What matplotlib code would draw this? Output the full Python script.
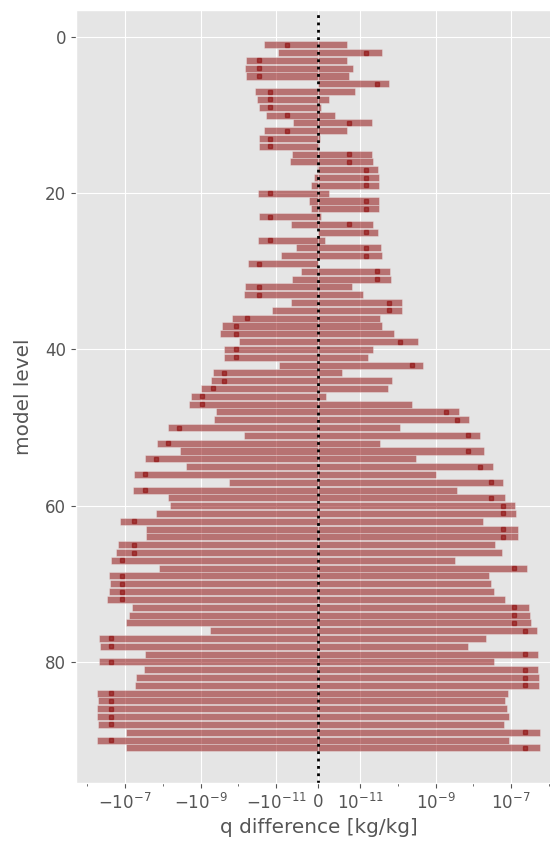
# q differences per model level (min/max range and the marked value)
import numpy as np
import matplotlib
matplotlib.use("Agg")
import matplotlib.pyplot as plt
from matplotlib.ticker import FixedLocator, NullFormatter

plt.style.use("ggplot")
plt.rcParams["font.size"] = 12

levels = np.arange(1, 92)

q_min = [-2.08e-11, -9.5e-12, -6.37e-11, -6.5e-11, -6.37e-11, 0.0, -3.6e-11, -3.13e-11, -2.88e-11, -1.81e-11,
         -5.96e-12, -2.13e-11, -2.82e-11, -2.82e-11, -6.2e-12, -6.8e-12, -3e-13, -9.5e-13, -1.7e-12, -3.01e-11,
         -2.2e-12, -1.7e-12, -2.88e-11, -6.4e-12, -1e-13, -2.94e-11, -5.3e-12, -8.8e-12, -5.64e-11, -4.1e-12,
         -6.1e-12, -6.5e-11, -6.92e-11, -6.4e-12, -1.25e-11, -1.44e-10, -2.64e-10, -2.99e-10, -9.4e-11, -2.44e-10,
         -2.39e-10, -9.4e-12, -4.57e-10, -5.16e-10, -9.5e-10, -1.82e-9, -2.06e-9, -3.89e-10, -4.49e-10, -7.41e-9,
         -7.2e-11, -1.42e-8, -3.56e-9, -2.89e-8, -2.47e-9, -5.77e-8, -1.73e-10, -6.12e-8, -7.41e-9, -6.43e-9,
         -1.51e-8, -1.33e-7, -2.83e-8, -2.77e-8, -1.5e-7, -1.69e-7, -2.3e-7, -1.26e-8, -2.59e-7, -2.54e-7,
         -2.65e-7, -2.99e-7, -6.65e-8, -7.98e-8, -9.4e-8, -5.71e-10, -4.88e-7, -4.58e-7, -2.89e-8, -4.98e-7,
         -3.07e-8, -5.0e-8, -5.32e-8, -5.51e-7, -5.28e-7, -5.51e-7, -5.62e-7, -5.28e-7, -9.4e-8, -5.4e-7,
         -9.4e-8]

q_max = [6.8e-12, 3.91e-11, 7.0e-12, 8.4e-12, 7.3e-12, 5.87e-11, 8.7e-12, 2.6e-12, 6e-13, 4.1e-12,
         2.08e-11, 7.0e-12, 5e-13, 2e-13, 2.08e-11, 2.17e-11, 3.07e-11, 3.13e-11, 3.19e-11, 2.5e-12,
         3.19e-11, 3.19e-11, 8e-13, 2.17e-11, 3.07e-11, 1.6e-12, 3.53e-11, 3.91e-11, 0.0, 6.37e-11,
         6.5e-11, 8.1e-12, 1.18e-11, 1.27e-10, 1.32e-10, 3.4e-11, 3.91e-11, 7.96e-11, 3.37e-10, 2.21e-11,
         1.63e-11, 4.76e-10, 5.8e-12, 7.2e-11, 5.42e-11, 1.9e-12, 2.34e-10, 4.19e-9, 7.87e-9, 1.17e-10,
         1.51e-8, 3.46e-11, 1.92e-8, 3.11e-10, 3.27e-8, 1.05e-9, 6.12e-8, 3.71e-9, 6.92e-8, 1.27e-7,
         1.36e-7, 1.85e-8, 1.5e-7, 1.5e-7, 3.84e-8, 5.77e-8, 3.22e-9, 2.59e-7, 2.56e-8, 2.89e-8,
         3.61e-8, 7.06e-8, 3.05e-7, 3.24e-7, 3.45e-7, 4.88e-7, 2.17e-8, 7.26e-9, 5.18e-7, 3.61e-8,
         5.18e-7, 5.4e-7, 5.4e-7, 8.15e-8, 6.92e-8, 7.67e-8, 9.02e-8, 6.65e-8, 5.85e-7, 8.83e-8,
         5.85e-7]

q_mark = [-7.28e-12, 1.46e-11, -2.91e-11, -2.91e-11, -2.91e-11, 2.91e-11, -1.46e-11, -1.46e-11, -1.46e-11, -7.28e-12,
          7.28e-12, -7.28e-12, -1.46e-11, -1.46e-11, 7.28e-12, 7.28e-12, 1.46e-11, 1.46e-11, 1.46e-11, -1.46e-11,
          1.46e-11, 1.46e-11, -1.46e-11, 7.28e-12, 1.46e-11, -1.46e-11, 1.46e-11, 1.46e-11, -2.91e-11, 2.91e-11,
          2.91e-11, -2.91e-11, -2.91e-11, 5.82e-11, 5.82e-11, -5.82e-11, -1.16e-10, -1.16e-10, 1.16e-10, -1.16e-10,
          -1.16e-10, 2.33e-10, -2.33e-10, -2.33e-10, -4.66e-10, -9.31e-10, -9.31e-10, 1.86e-9, 3.73e-9, -3.73e-9,
          7.45e-9, -7.45e-9, 7.45e-9, -1.49e-8, 1.49e-8, -2.98e-8, 2.98e-8, -2.98e-8, 2.98e-8, 5.96e-8,
          5.96e-8, -5.96e-8, 5.96e-8, 5.96e-8, -5.96e-8, -5.96e-8, -1.19e-7, 1.19e-7, -1.19e-7, -1.19e-7,
          -1.19e-7, -1.19e-7, 1.19e-7, 1.19e-7, 1.19e-7, 2.38e-7, -2.38e-7, -2.38e-7, 2.38e-7, -2.38e-7,
          2.38e-7, 2.38e-7, 2.38e-7, -2.38e-7, -2.38e-7, -2.38e-7, -2.38e-7, -2.38e-7, 2.38e-7, -2.38e-7,
          2.38e-7]

major_ticks = [-1e-7, -1e-9, -1e-11, 0, 1e-11, 1e-9, 1e-7]
minor_ticks = [-1e-6, -1e-8, -1e-10, 1e-10, 1e-8, 1e-6]

fig = plt.figure(figsize=(5.5, 8.43), dpi=100)
ax = fig.add_axes([76 / 550, 1 - 783 / 843, (562 - 76) / 550, (783 - 10) / 843])

ax.set_xscale("symlog", linthresh=1e-11)
# negative and positive part of the range, both from zero
ax.barh(levels, q_min, height=0.9, color="darkred", alpha=0.5, edgecolor="#EEEEEE", linewidth=0.5)
ax.barh(levels, q_max, height=0.9, color="darkred", alpha=0.5, edgecolor="#EEEEEE", linewidth=0.5)
ax.plot(q_mark, levels, "s", color="darkred", alpha=0.5, ms=3.5)
ax.axvline(0, color="k", ls=":", lw=2)

ax.xaxis.set_major_locator(FixedLocator(major_ticks))
ax.xaxis.set_minor_locator(FixedLocator(minor_ticks))
ax.xaxis.set_minor_formatter(NullFormatter())
ax.set_xlim(-1.99e-6, 2.24e-6)
ax.set_ylim(95.5, -3.45)

ax.set_xlabel("q difference [kg/kg]")
ax.set_ylabel("model level", labelpad=9)

fig.savefig("out.png", dpi=100)
